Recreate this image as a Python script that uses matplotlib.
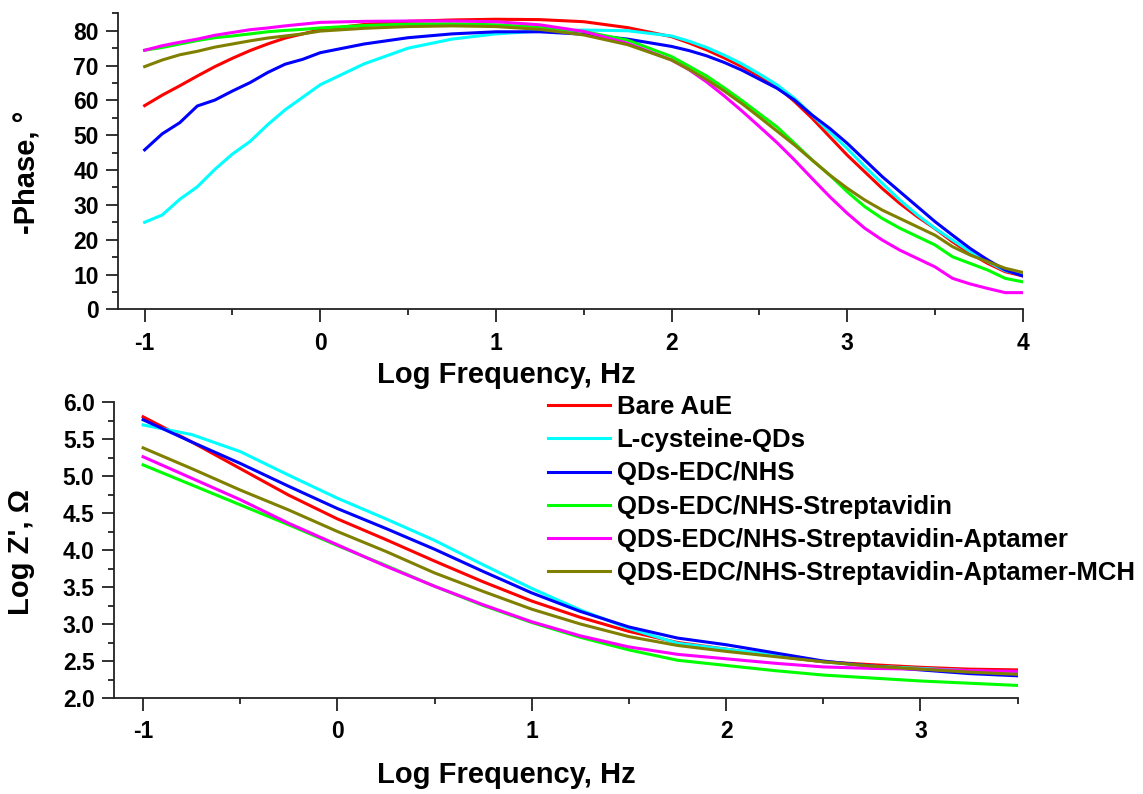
import matplotlib
matplotlib.use('Agg')
import matplotlib.pyplot as plt
from matplotlib.ticker import MultipleLocator

plt.rcParams['font.family'] = 'Liberation Sans'
plt.rcParams['font.weight'] = 'bold'
plt.rcParams['axes.labelweight'] = 'bold'
plt.rcParams['axes.unicode_minus'] = False

labels = ['Bare AuE', 'L-cysteine-QDs', 'QDs-EDC/NHS', 'QDs-EDC/NHS-Streptavidin',
          'QDS-EDC/NHS-Streptavidin-Aptamer', 'QDS-EDC/NHS-Streptavidin-Aptamer-MCH']
colors = ['#ff0000', '#00ffff', '#0000ff', '#00ff00', '#ff00ff', '#808000']

# Bode phase plot
logf_phase = [-1.0, -0.9, -0.8, -0.7, -0.6, -0.5, -0.4, -0.3, -0.2, -0.1, 0.0,
              0.25, 0.5, 0.75, 1.0, 1.25, 1.5, 1.75,
              2.0, 2.1, 2.2, 2.3, 2.4, 2.5, 2.6, 2.7, 2.8, 2.9, 3.0,
              3.1, 3.2, 3.3, 3.4, 3.5, 3.6, 3.7, 3.8, 3.9, 4.0]

phase_bare = [58.5, 61.5, 64.2, 67.0, 69.7, 72.1, 74.3, 76.2, 77.9, 79.1, 80.3,
              81.8, 82.7, 83.1, 83.3, 83.2, 82.6, 80.9,
              78.3, 76.5, 74.5, 72.2, 69.7, 67.0, 64.0, 59.7, 54.9, 49.6, 44.3,
              39.5, 34.7, 30.4, 26.6, 23.2, 19.4, 16.1, 13.2, 10.8, 9.6]
phase_cys = [25.0, 27.1, 31.6, 35.2, 40.2, 44.6, 48.2, 53.0, 57.3, 60.9, 64.5,
             70.5, 75.0, 77.6, 79.1, 79.9, 80.2, 80.0,
             78.5, 77.0, 75.2, 73.0, 70.5, 67.6, 64.5, 60.6, 55.8, 51.0, 46.2,
             41.0, 36.2, 31.4, 27.1, 23.3, 19.9, 16.6, 13.7, 11.1, 9.9]
phase_edc = [45.8, 50.4, 53.6, 58.4, 60.1, 62.7, 65.1, 68.0, 70.4, 71.8, 73.7,
             76.2, 78.0, 79.1, 79.7, 79.7, 79.0, 77.6,
             75.5, 74.3, 72.8, 70.9, 68.7, 66.1, 63.5, 60.1, 55.8, 52.0, 47.7,
             42.9, 38.1, 33.8, 29.5, 25.2, 21.3, 17.5, 14.2, 11.3, 9.6]
phase_strep = [74.4, 75.2, 76.2, 77.2, 78.0, 78.5, 79.1, 79.7, 80.1, 80.4, 80.8,
               81.5, 81.9, 82.0, 81.7, 81.0, 79.8, 77.3,
               72.6, 69.8, 67.0, 63.6, 60.0, 56.2, 52.4, 47.7, 42.9, 38.6, 33.8,
               29.5, 26.1, 23.3, 20.9, 18.5, 15.1, 13.2, 11.3, 8.9, 7.9]
phase_apt = [74.4, 75.7, 76.7, 77.6, 78.7, 79.5, 80.3, 80.8, 81.4, 81.9, 82.4,
             82.7, 82.8, 82.8, 82.6, 81.7, 79.8, 76.4,
             71.6, 68.8, 65.3, 61.3, 57.0, 52.5, 47.9, 42.9, 37.6, 32.4, 27.6,
             23.3, 19.9, 17.0, 14.6, 12.2, 8.9, 7.3, 6.0, 4.8, 4.8]
phase_mch = [69.7, 71.6, 73.1, 74.1, 75.3, 76.2, 77.1, 77.9, 78.5, 79.1, 79.9,
             80.7, 81.2, 81.4, 81.2, 80.4, 78.8, 76.0,
             71.6, 68.9, 66.0, 62.7, 59.1, 55.2, 51.2, 47.2, 42.9, 38.6, 34.8,
             31.4, 28.5, 26.1, 23.7, 21.3, 18.0, 15.6, 13.7, 11.8, 10.6]

# Bode magnitude plot
logf_z = [-1.0, -0.75, -0.5, -0.25, 0.0, 0.25, 0.5, 0.75, 1.0, 1.25,
          1.5, 1.75, 2.0, 2.25, 2.5, 2.75, 3.0, 3.25, 3.5]

z_bare = [5.80, 5.46, 5.10, 4.74, 4.42, 4.14, 3.85, 3.57, 3.31, 3.09,
          2.90, 2.75, 2.66, 2.57, 2.49, 2.45, 2.415, 2.39, 2.38]
z_cys = [5.69, 5.56, 5.33, 5.01, 4.70, 4.42, 4.13, 3.80, 3.48, 3.19,
         2.94, 2.74, 2.66, 2.58, 2.49, 2.43, 2.40, 2.37, 2.34]
z_edc = [5.76, 5.46, 5.17, 4.86, 4.56, 4.29, 4.01, 3.71, 3.42, 3.17,
         2.96, 2.81, 2.72, 2.61, 2.50, 2.43, 2.38, 2.33, 2.30]
z_strep = [5.15, 4.88, 4.61, 4.34, 4.06, 3.79, 3.51, 3.25, 3.02, 2.82,
           2.65, 2.51, 2.44, 2.37, 2.31, 2.27, 2.23, 2.20, 2.17]
z_apt = [5.26, 4.97, 4.68, 4.36, 4.07, 3.78, 3.51, 3.26, 3.03, 2.84,
         2.69, 2.59, 2.53, 2.47, 2.42, 2.40, 2.39, 2.37, 2.36]
z_mch = [5.38, 5.10, 4.81, 4.54, 4.25, 3.98, 3.69, 3.44, 3.20, 3.00,
         2.83, 2.71, 2.63, 2.56, 2.49, 2.43, 2.39, 2.35, 2.32]

phases = [phase_bare, phase_cys, phase_edc, phase_strep, phase_apt, phase_mch]
zs = [z_bare, z_cys, z_edc, z_strep, z_apt, z_mch]

fig = plt.figure(figsize=(11.43, 7.94), dpi=100)
ax1 = fig.add_axes([0.1035, 0.6104, 0.7913, 0.3728])
ax2 = fig.add_axes([0.0997, 0.1209, 0.7906, 0.3728])

for ph, c in zip(phases, colors):
    ax1.plot(logf_phase, ph, color=c, lw=2.2)
for z, c, lab in zip(zs, colors, labels):
    ax2.plot(logf_z, z, color=c, lw=2.2, label=lab)

ax1.set_xlim(-1.15, 4)
ax1.set_ylim(0, 85)
ax1.xaxis.set_major_locator(MultipleLocator(1))
ax1.xaxis.set_minor_locator(MultipleLocator(0.5))
ax1.yaxis.set_major_locator(MultipleLocator(10))
ax1.yaxis.set_minor_locator(MultipleLocator(5))

ax2.set_xlim(-1.15, 3.5)
ax2.set_ylim(2, 6)
ax2.xaxis.set_major_locator(MultipleLocator(1))
ax2.xaxis.set_minor_locator(MultipleLocator(0.5))
ax2.yaxis.set_major_locator(MultipleLocator(0.5))
ax2.yaxis.set_minor_locator(MultipleLocator(0.25))
ax2.yaxis.set_major_formatter('{x:.1f}')

for ax in (ax1, ax2):
    for s in ('top', 'right'):
        ax.spines[s].set_visible(False)
    for s in ('left', 'bottom'):
        ax.spines[s].set_linewidth(1.3)
        ax.spines[s].set_color('#222222')
    ax.tick_params(which='major', direction='out', length=9, width=1.3,
                   labelsize=16.5, pad=5, color='#222222')
    ax.tick_params(which='minor', direction='out', length=4.5, width=1.3,
                   color='#222222')
    ax.tick_params(axis='x', which='major', pad=7)

ax1.set_ylabel('-Phase, °', fontsize=21, va='center')
ax1.yaxis.set_label_coords(-0.101, 0.464)
ax1.set_xlabel('Log Frequency, Hz', fontsize=21, va='center')
ax1.xaxis.set_label_coords(0.4292, -0.222)

ax2.set_ylabel("Log Z', Ω", fontsize=21, va='center')
ax2.yaxis.set_label_coords(-0.1029, 0.4916)
ax2.set_xlabel('Log Frequency, Hz', fontsize=21, va='center')
ax2.xaxis.set_label_coords(0.4343, -0.260)

ax2.legend(loc='upper left', bbox_to_anchor=(548 / 1143, 1 - 395 / 794),
           bbox_transform=fig.transFigure, frameon=False, fontsize=18.5,
           handlelength=2.4, handletextpad=0.27, labelspacing=0.36,
           borderpad=0, borderaxespad=0)

fig.savefig('out.png', dpi=100)
